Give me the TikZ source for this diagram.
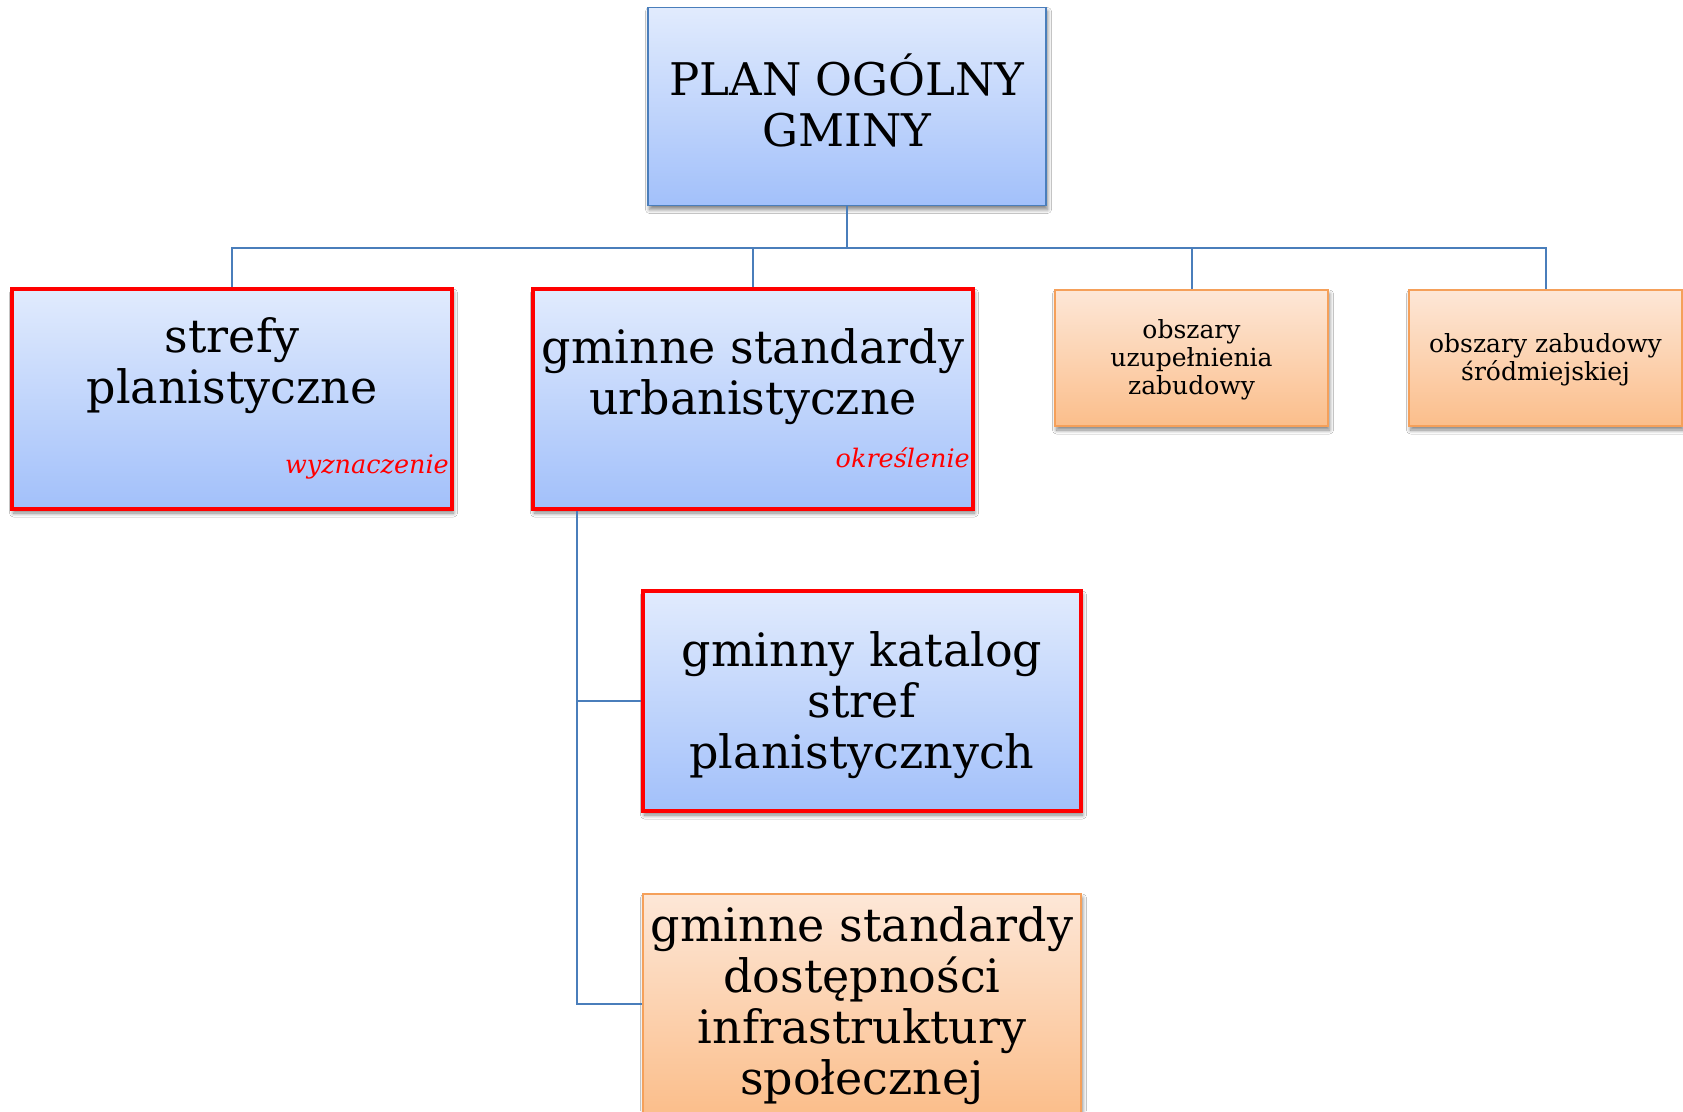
\documentclass[tikz,border=0pt]{standalone}
\usepackage{fontspec}
\setmainfont{DejaVu Serif}
\usetikzlibrary{shadows.blur}
\definecolor{lnblue}{HTML}{4A7EBB}
\definecolor{btop}{HTML}{E1EBFD}
\definecolor{bbot}{HTML}{A2C0FA}
\definecolor{otop}{HTML}{FDE7D7}
\definecolor{obot}{HTML}{FBBE8B}
\definecolor{oline}{HTML}{F5A05A}
\definecolor{redl}{HTML}{FF0000}
\begin{document}
\begin{tikzpicture}[x=1pt,y=-1pt,
  base/.style={rectangle, inner sep=0pt, blur shadow={shadow xshift=1.5pt, shadow yshift=-4pt, shadow blur steps=8, shadow blur radius=4pt, shadow opacity=50}},
  bluebox/.style={base, top color=btop, bottom color=bbot, draw=lnblue, line width=1.5pt},
  redbox/.style={base, top color=btop, bottom color=bbot, draw=redl, line width=3.5pt},
  orbox/.style={base, top color=otop, bottom color=obot, draw=oline, line width=1.5pt},
  big/.style={align=center, font=\fontsize{46}{51}\selectfont, inner sep=0pt},
  small/.style={align=center, font=\fontsize{25}{28}\selectfont, inner sep=0pt},
  lbl/.style={font=\fontsize{25.5}{28}\selectfont\itshape, text=redl, inner sep=0pt},
  conn/.style={draw=lnblue, line width=2pt}]
\useasboundingbox[fill=white] (0,0) rectangle (1683,1111);

\node[bluebox, minimum width=398pt, minimum height=198pt] (top) at (847,106.5) {};
\node[big, font=\fontsize{45}{51}\selectfont] (topt) at (847,100) {PLAN OGÓLNY\\GMINY};

\node[redbox, minimum width=440pt, minimum height=220pt] (s1) at (232,399) {};
\node[big] (s1t) at (232,366) {strefy\\planistyczne};
\node[lbl, anchor=base east] (w1) at (449,473) {wyznaczenie};

\node[redbox, minimum width=440pt, minimum height=220pt] (s2) at (753,399) {};
\node[big] (s2t) at (753,377) {gminne standardy\\urbanistyczne};
\node[lbl, anchor=base east] (w2) at (970,467) {określenie};

\node[orbox, minimum width=273pt, minimum height=136pt] (s3) at (1191.5,358) {};
\node[small] (s3t) at (1191.5,360) {obszary\\uzupełnienia\\zabudowy};
\node[orbox, minimum width=273pt, minimum height=136pt] (s4) at (1545.5,358) {};
\node[small] (s4t) at (1545.5,360) {obszary zabudowy\\śródmiejskiej};

\node[redbox, minimum width=438pt, minimum height=220pt] (s5) at (862,701) {};
\node[big] (s5t) at (862,705) {gminny katalog\\stref\\planistycznych};
\node[orbox, minimum width=438pt, minimum height=220pt] (s6) at (862,1004) {};
\node[big] (s6t) at (862,1006) {gminne standardy\\dostępności\\infrastruktury\\społecznej};

\coordinate (bus) at (847,248);
\coordinate (tk) at (577,0);
\draw[conn] (top.south) -- (bus);
\draw[conn] (s1.north) |- (bus) -| (s4.north);
\draw[conn] (s2.north) -- (s2.north |- bus);
\draw[conn] (s3.north) -- (s3.north |- bus);
\draw[conn] (s2.south -| tk) |- (s6.west);
\draw[conn] (s5.west -| tk) -- (s5.west);
\end{tikzpicture}
\end{document}
